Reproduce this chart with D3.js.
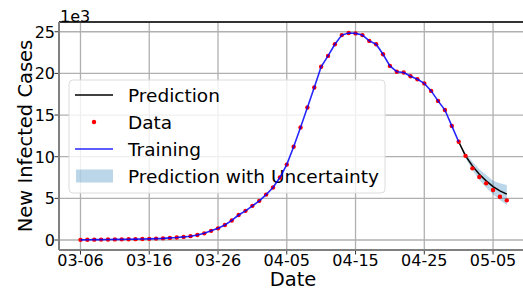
<!DOCTYPE html>
<html>
<head>
<meta charset="utf-8">
<script src="https://cdn.jsdelivr.net/npm/d3@7"></script>
<style>
  body { margin: 0; background: #fff; }
  svg { display: block; overflow: hidden; }
  text { font-family: "DejaVu Sans", sans-serif; fill: #000; }
</style>
</head>
<body>
<svg id="chart" width="523" height="291"></svg>
<script>
// daily new infected cases, in thousands, starting 2020-03-06
var startDate = "2020-03-06";
var observed = [0.02, 0.03, 0.04, 0.05, 0.06, 0.07, 0.08, 0.09, 0.10, 0.12,
                0.14, 0.17, 0.20, 0.25, 0.30, 0.37, 0.46, 0.60, 0.80, 1.10,
                1.40, 1.80, 2.35, 3.00, 3.50, 4.10, 4.70, 5.45, 6.30, 7.50,
                9.05, 11.2, 13.5, 15.9, 18.3, 20.8, 22.1, 23.5, 24.6, 24.85,
                24.8, 24.6, 23.9, 23.5, 22.3, 20.9, 20.2, 20.1, 19.65, 19.3,
                18.8, 17.9, 16.7, 15.6, 13.7, 11.8, 10.1, 8.6, 7.56, 6.8,
                6.0, 5.2, 4.76];
var trainDays = 56;   // first 56 days are the training window
var prediction = [11.8, 10.1, 8.9, 7.9, 7.1, 6.4, 5.9, 5.5];
var predLower  = [11.8, 9.8, 8.4, 7.2, 6.3, 5.5, 4.8, 4.2];
var predUpper  = [11.8, 10.4, 9.4, 8.5, 7.8, 7.1, 6.8, 6.6];
var xTicks = ["03-06", "03-16", "03-26", "04-05", "04-15", "04-25", "05-05"];
var yTicks = [0, 5, 10, 15, 20, 25];
var legendLabels = ["Prediction", "Data", "Training", "Prediction with Uncertainty"];

var margin_left = 59, margin_top = 22, margin_bottom = 41;
var width = 469, height = 291 - margin_top - margin_bottom;

var parse = d3.timeParse("%Y-%m-%d");
var t0 = parse(startDate);
function day(i){ return d3.timeDay.offset(t0, i); }
var fmt = d3.timeFormat("%m-%d");

var x = d3.scaleTime()
    .domain([d3.timeHour.offset(t0, -3.1 * 24), d3.timeHour.offset(t0, 65.1 * 24)])
    .range([0, width]);
var y = d3.scaleLinear().domain([-1.2, 26.17]).range([height, 0]);

var svg = d3.select("#chart");
var g = svg.append("g").attr("transform", "translate(" + margin_left + "," + margin_top + ")");

var tickDates = xTicks.map(function(s){ return parse("2020-" + s); });

// grid
g.selectAll(".xgrid").data(tickDates).enter().append("line")
    .attr("x1", function(d){ return x(d); }).attr("x2", function(d){ return x(d); })
    .attr("y1", 0).attr("y2", height)
    .style("stroke", "#b0b0b0").style("stroke-width", 1.3);
g.selectAll(".ygrid").data(yTicks).enter().append("line")
    .attr("x1", 0).attr("x2", width)
    .attr("y1", function(d){ return y(d); }).attr("y2", function(d){ return y(d); })
    .style("stroke", "#b0b0b0").style("stroke-width", 1.3);

// legend (sits under the curves here)
var lg = svg.append("g");
lg.append("rect").attr("x", 69).attr("y", 80).attr("width", 316).attr("height", 113)
    .attr("rx", 4).attr("ry", 4)
    .style("fill", "#fff").style("fill-opacity", 0.8)
    .style("stroke", "#dcdcdc").style("stroke-width", 1);
var rowY = [95, 122, 149, 176];
lg.append("line").attr("x1", 75).attr("x2", 113).attr("y1", rowY[0]).attr("y2", rowY[0])
    .style("stroke", "#000").style("stroke-width", 1.5);
lg.append("circle").attr("cx", 94).attr("cy", rowY[1]).attr("r", 2.2).style("fill", "#ff0000");
lg.append("line").attr("x1", 75).attr("x2", 113).attr("y1", rowY[2]).attr("y2", rowY[2])
    .style("stroke", "#0000ff").style("stroke-width", 1.6).style("opacity", 0.85);
lg.append("rect").attr("x", 76).attr("y", rowY[3] - 6.5).attr("width", 37).attr("height", 13)
    .style("fill", "#1f77b4").style("opacity", 0.3);
lg.selectAll(".lt").data(legendLabels).enter().append("text")
    .attr("x", 128)
    .attr("y", function(d, i){ return rowY[i] + 6.5; })
    .attr("font-size", 18.5)
    .text(function(d){ return d; });

var plot = svg.append("g").attr("transform", "translate(" + margin_left + "," + margin_top + ")");
var predStart = trainDays - 1;

// uncertainty band
var area = d3.area()
    .x(function(d, i){ return x(day(predStart + i)); })
    .y0(function(d, i){ return y(predLower[i]); })
    .y1(function(d, i){ return y(predUpper[i]); });
plot.append("path").datum(predLower).attr("d", area)
    .style("fill", "#1f77b4").style("opacity", 0.3);

// prediction line
var predLine = d3.line()
    .x(function(d, i){ return x(day(predStart + i)); })
    .y(function(d){ return y(d); });
plot.append("path").datum(prediction).attr("d", predLine)
    .style("fill", "none").style("stroke", "#000").style("stroke-width", 1.5);

// data points
plot.selectAll(".dot").data(observed).enter().append("circle")
    .attr("cx", function(d, i){ return x(day(i)); })
    .attr("cy", function(d){ return y(d); })
    .attr("r", 2.2)
    .style("fill", "#ff0000");

// training curve
var trainLine = d3.line()
    .x(function(d, i){ return x(day(i)); })
    .y(function(d){ return y(d); });
plot.append("path").datum(observed.slice(0, trainDays)).attr("d", trainLine)
    .style("fill", "none").style("stroke", "#0000ff").style("stroke-width", 1.6)
    .style("opacity", 0.85);

// spines
plot.append("line").attr("x1", 0).attr("x2", width).attr("y1", 0).attr("y2", 0)
    .style("stroke", "#333").style("stroke-width", 1.8);
plot.append("line").attr("x1", 0).attr("x2", 0).attr("y1", 0).attr("y2", height)
    .style("stroke", "#808080").style("stroke-width", 2);
plot.append("line").attr("x1", 0).attr("x2", width).attr("y1", height).attr("y2", height)
    .style("stroke", "#808080").style("stroke-width", 2);

// ticks
plot.selectAll(".xt").data(tickDates).enter().append("line")
    .attr("x1", function(d){ return x(d); }).attr("x2", function(d){ return x(d); })
    .attr("y1", height + 1).attr("y2", height + 4.5)
    .style("stroke", "#333").style("stroke-width", 1);
plot.selectAll(".xl").data(tickDates).enter().append("text")
    .attr("x", function(d){ return x(d); })
    .attr("y", height + 15.7)
    .attr("font-size", 16)
    .style("text-anchor", "middle")
    .text(function(d){ return fmt(d); });

plot.selectAll(".yt").data(yTicks).enter().append("line")
    .attr("x1", -4.5).attr("x2", -1)
    .attr("y1", function(d){ return y(d); }).attr("y2", function(d){ return y(d); })
    .style("stroke", "#333").style("stroke-width", 1);
plot.selectAll(".yl").data(yTicks).enter().append("text")
    .attr("x", -4)
    .attr("y", function(d){ return y(d) + 6; })
    .attr("font-size", 16)
    .style("text-anchor", "end")
    .text(function(d){ return d; });

plot.append("text").attr("x", 1).attr("y", -0.5).attr("font-size", 16).text("1e3");

// axis labels
plot.append("text").attr("x", width / 2 - 0.5).attr("y", 285.7 - margin_top)
    .attr("font-size", 19.5).style("text-anchor", "middle").text("Date");
svg.append("text")
    .attr("transform", "translate(31.5," + (margin_top + height / 2) + ") rotate(-90)")
    .attr("font-size", 19.5).style("text-anchor", "middle").text("New Infected Cases");
</script>
</body>
</html>
